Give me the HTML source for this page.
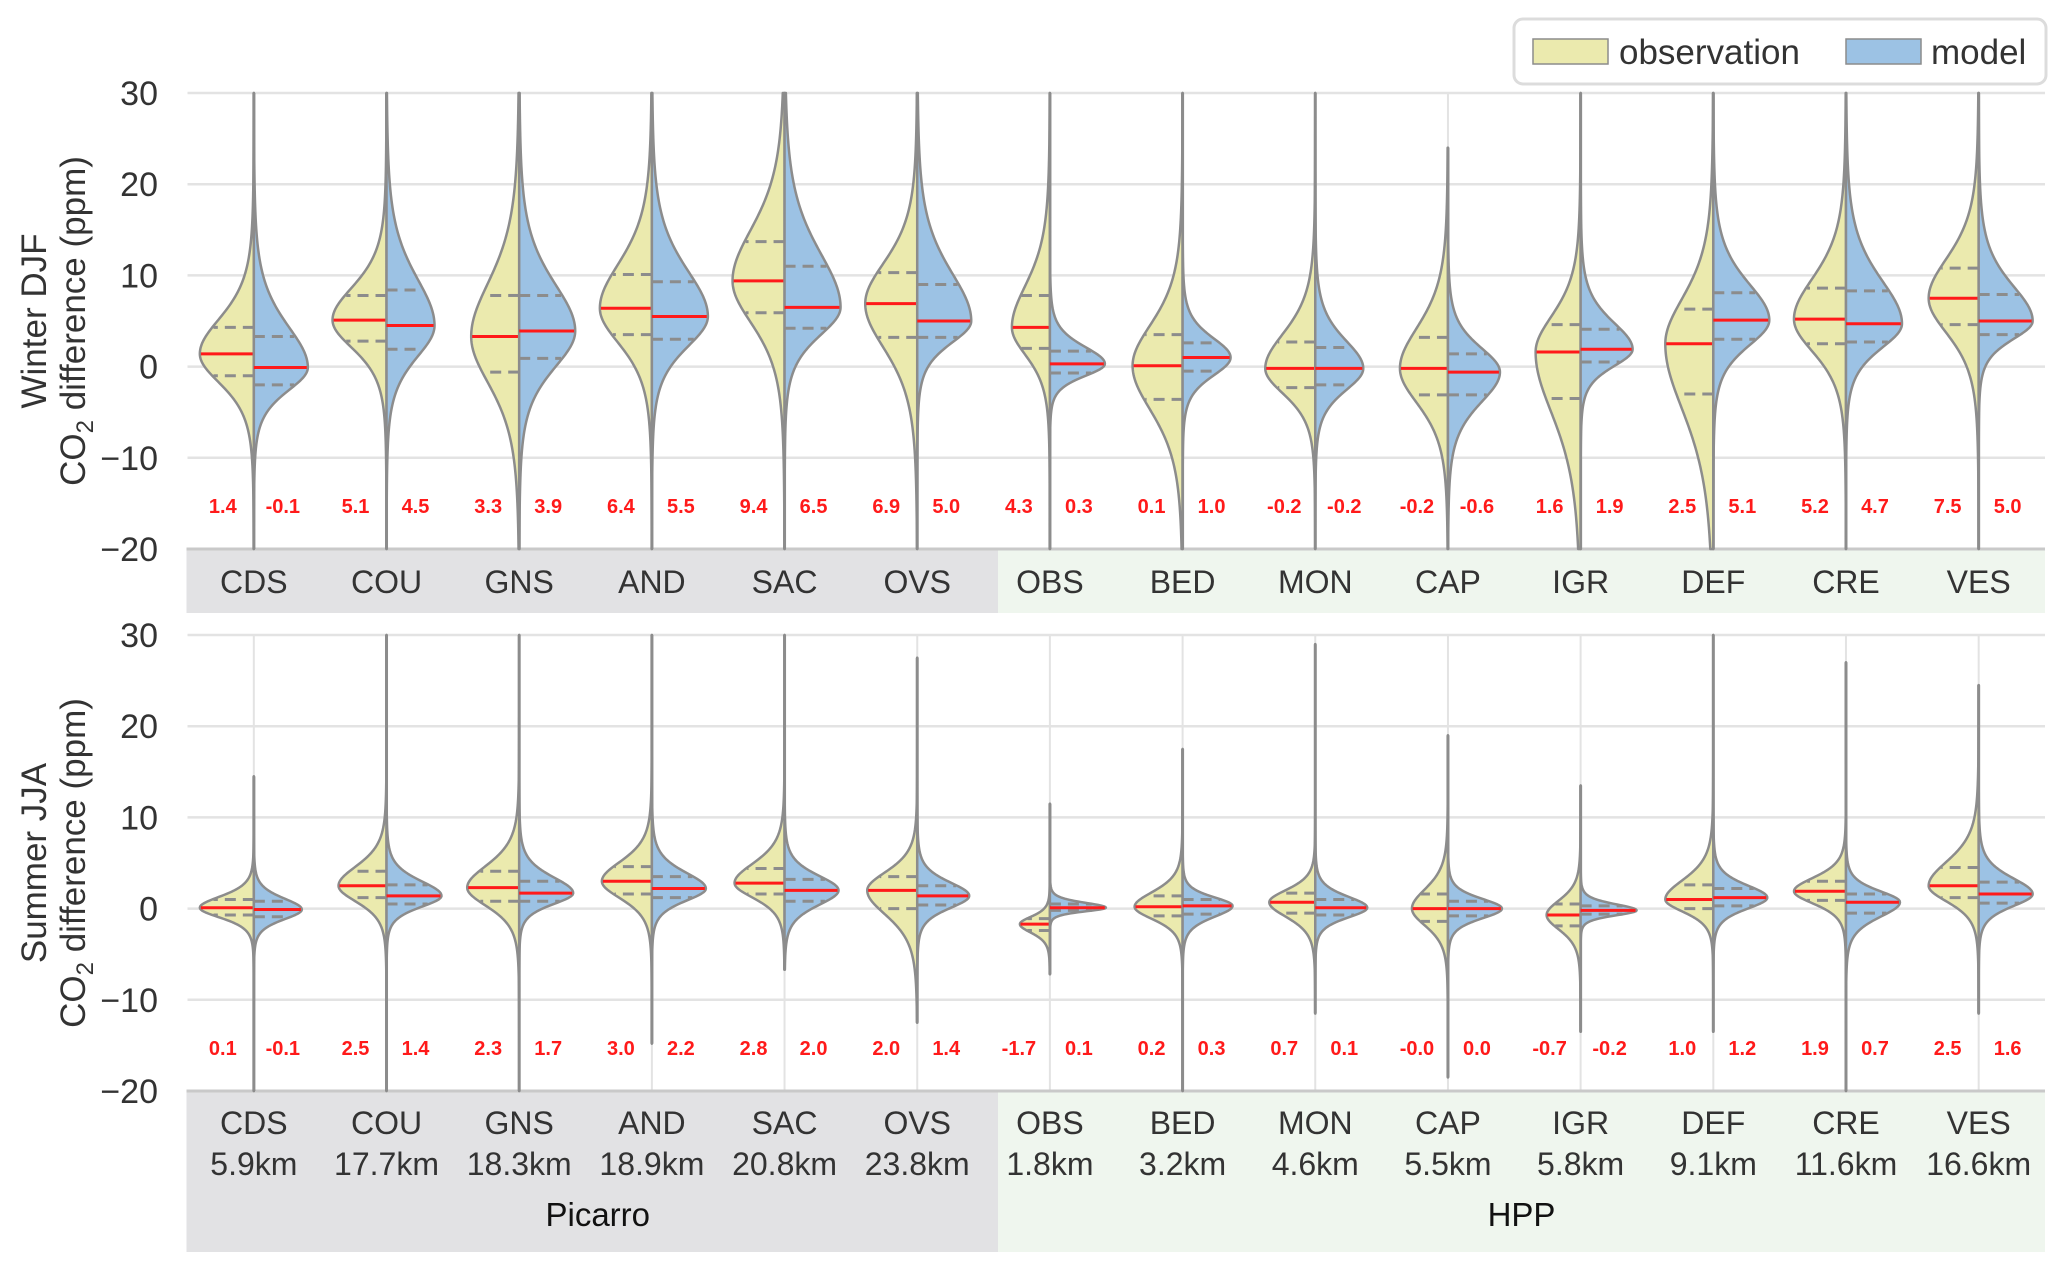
<!DOCTYPE html>
<html><head><meta charset="utf-8"><style>
html,body{margin:0;padding:0;background:#fff}
svg{display:block}
text{font-family:"Liberation Sans",Arial,sans-serif}
</style></head><body>
<svg id="chart" width="2067" height="1270" viewBox="0 0 2067 1270" xmlns="http://www.w3.org/2000/svg">
<g id="bg"></g>
<g id="grid"></g>
<g id="violins"></g>
<g id="labels"></g>
<g>
<rect x="1514" y="19" width="532" height="65" rx="9" fill="#fff" stroke="#dcdcdc" stroke-width="3"/>
<rect x="1533" y="39" width="75" height="25" fill="#ebeaae" stroke="#8c8c8c" stroke-width="1.5"/>
<text x="1619" y="64" font-size="35" fill="#333">observation</text>
<rect x="1846" y="39" width="75" height="25" fill="#9cc2e4" stroke="#8c8c8c" stroke-width="1.5"/>
<text x="1931" y="64" font-size="35" fill="#333">model</text>
</g>
</svg>
<script>
const stations = ["CDS","COU","GNS","AND","SAC","OVS","OBS","BED","MON","CAP","IGR","DEF","CRE","VES"];
const distances = ["5.9km","17.7km","18.3km","18.9km","20.8km","23.8km","1.8km","3.2km","4.6km","5.5km","5.8km","9.1km","11.6km","16.6km"];
const groups = ["Picarro","HPP"];
const yTicks = [30,20,10,0,-10,-20];
const yTickLabels = ["30","20","10","0","\u221210","\u221220"];
// Winter
const wObsMed = [1.4,5.1,3.3,6.4,9.4,6.9,4.3,0.1,-0.2,-0.2,1.6,2.5,5.2,7.5];
const wObsQ1  = [-1.0,2.8,-0.6,3.5,5.9,3.2,2.0,-3.6,-2.3,-3.1,-3.5,-3.0,2.5,4.6];
const wObsQ3  = [4.3,7.8,7.8,10.1,13.7,10.3,7.8,3.5,2.7,3.2,4.6,6.3,8.6,10.8];
const wModMed = [-0.1,4.5,3.9,5.5,6.5,5.0,0.3,1.0,-0.2,-0.6,1.9,5.1,4.7,5.0];
const wModQ1  = [-2.0,1.9,0.9,3.0,4.2,3.2,-0.7,-0.5,-2.0,-3.1,0.5,3.0,2.7,3.5];
const wModQ3  = [3.3,8.4,7.8,9.3,11.0,9.0,1.7,2.6,2.1,1.4,4.1,8.1,8.3,7.9];
const wLo = [-20,-20,-20,-20,-20,-20,-20,-20,-20,-20,-20,-20,-20,-20];
const wHi = [30,30,30,30,30,30,30,30,30,24,30,30,30,30];
const wObsPeak = [54,54,48,52,52,52,38,50,50,48,45,48,52,50];
const wModPeak = [54,48,56,56,56,54,55,48,48,52,52,56,56,54];
// Summer
const sObsMed = [0.1,2.5,2.3,3.0,2.8,2.0,-1.7,0.2,0.7,-0.0,-0.7,1.0,1.9,2.5];
const sObsQ1  = [-0.7,1.2,0.8,1.6,1.6,0.0,-2.4,-0.8,-0.5,-1.4,-1.9,0.0,0.9,1.2];
const sObsQ3  = [1.0,4.1,4.1,4.6,4.4,3.5,-1.1,1.4,1.7,1.6,0.5,2.6,3.0,4.5];
const sModMed = [-0.1,1.4,1.7,2.2,2.0,1.4,0.1,0.3,0.1,0.0,-0.2,1.2,0.7,1.6];
const sModQ1  = [-0.9,0.5,0.8,1.2,0.8,0.4,-0.2,-0.6,-0.7,-0.8,-0.6,0.3,-0.5,0.6];
const sModQ3  = [0.8,2.6,3.0,3.5,3.2,2.5,0.5,1.0,1.0,0.8,0.3,2.2,1.6,2.9];
const sLo = [-20,-20,-20,-14.8,-6.7,-12.5,-7.2,-20,-11.5,-18.5,-13.5,-13.5,-20,-11.5];
const sHi = [14.5,30,30,30,30,27.5,11.5,17.5,29,19,13.5,30,27,24.5];
const sObsPeak = [54,48,52,50,50,50,30,48,46,36,34,48,52,50];
const sModPeak = [48,55,54,54,54,52,56,50,52,54,56,54,54,54];

const NS='http://www.w3.org/2000/svg';
function mk(tag,attrs,parent){const e=document.createElementNS(NS,tag);for(const k in attrs)e.setAttribute(k,attrs[k]);parent.appendChild(e);return e;}
function fmt(v){const s=Math.abs(v).toFixed(1);return (v<0||Object.is(v,-0))?'-'+s:s;}
const xLeft=187.5, xRight=2045, step=(xRight-xLeft)/stations.length;
const xC=i=>xLeft+step*(i+0.5);
const panels=[
 {name:'winter',top:93,bot:549,bandBot:613,title1:'Winter DJF',med:[wObsMed,wModMed],q1:[wObsQ1,wModQ1],q3:[wObsQ3,wModQ3],lo:wLo,hi:wHi,peak:[wObsPeak,wModPeak],numY:513,dist:false},
 {name:'summer',top:635,bot:1091,bandBot:1252,title1:'Summer JJA',med:[sObsMed,sModMed],q1:[sObsQ1,sModQ1],q3:[sObsQ3,sModQ3],lo:sLo,hi:sHi,peak:[sObsPeak,sModPeak],numY:1055,dist:true}
];
const bg=document.getElementById('bg'),grid=document.getElementById('grid'),vg=document.getElementById('violins'),lg=document.getElementById('labels');
const split=998;
panels.forEach(p=>{
 const yS=v=>p.bot-(v+20)/50*(p.bot-p.top);
 let r=mk('rect',{x:xLeft-1,y:p.bot,width:split-xLeft+1,height:p.bandBot-p.bot,fill:'#e2e2e4'},bg);
 
 r=mk('rect',{x:split,y:p.bot,width:xRight-split,height:p.bandBot-p.bot,fill:'#eff6ee'},bg);
 
 yTicks.forEach((t,k)=>{
  if(t>-20){const l=mk('line',{x1:xLeft,x2:xRight,y1:yS(t),y2:yS(t),stroke:'#e3e3e3','stroke-width':2.5},grid);
   }
  const tx=mk('text',{x:158,y:yS(t)+12,'text-anchor':'end','font-size':34,fill:'#333'},lg);
  
  tx.textContent=yTickLabels[k];
 });
 stations.forEach((s,i)=>{
  const l=mk('line',{x1:xC(i),x2:xC(i),y1:p.top,y2:p.bot,stroke:'#e3e3e3','stroke-width':2},grid);
  
 });
 const ax=mk('line',{x1:xLeft-1,x2:xRight,y1:p.bot,y2:p.bot,stroke:'#c9c9c9','stroke-width':3},grid);
 
 const cy=(p.top+p.bot)/2;
 let t1=mk('text',{x:0,y:0,transform:`translate(46,${cy}) rotate(-90)`,'text-anchor':'middle','font-size':35,fill:'#333'},lg);
 
 t1.textContent=p.title1;
 let t2=mk('text',{x:0,y:0,transform:`translate(85,${cy}) rotate(-90)`,'text-anchor':'middle','font-size':35,fill:'#333'},lg);
 
 t2.innerHTML='CO<tspan font-size="24" dy="8">2</tspan><tspan dy="-8"> difference (ppm)</tspan>';
 stations.forEach((s,i)=>{
  const cx=xC(i), lo=p.lo[i], hi=p.hi[i];
  const cl=mk('line',{x1:cx,x2:cx,y1:yS(lo),y2:yS(hi),stroke:'#8c8c8c','stroke-width':3},vg);
  
  [0,1].forEach(h=>{
   const m=p.med[h][i],a=p.q1[h][i],b=p.q3[h][i],w=p.peak[h][i],dir=h===0?-1:1;
   const sl=Math.max(m-a,0.1)/0.674, sh=Math.max(b-m,0.1)/0.674;
   const nu=5;
   const wf=y=>{const z=y<m?(y-m)/sl:(y-m)/sh;return w*Math.pow(1+z*z/nu,-(nu+1)/2);};
   let d=`M${cx},${yS(lo)}`;const N=300;
   for(let k=0;k<=N;k++){const y=lo+(hi-lo)*k/N;d+=`L${(cx+dir*wf(y)).toFixed(2)},${yS(y).toFixed(2)}`;}
   d+=`L${cx},${yS(hi)}Z`;
   const pa=mk('path',{d:d,fill:h===0?'#ebeaae':'#9cc2e4',stroke:'#8c8c8c','stroke-width':2.5,'stroke-linejoin':'round'},vg);
   
   
   [a,b].forEach(q=>{
    const ql=mk('line',{x1:cx,x2:cx+dir*wf(q)*0.97,y1:yS(q),y2:yS(q),stroke:'#8c8c8c','stroke-width':3,'stroke-dasharray':'11,7'},vg);
    
   });
   const ml=mk('line',{x1:cx,x2:cx+dir*wf(m)*0.98,y1:yS(m),y2:yS(m),stroke:'#ff1a1a','stroke-width':3},vg);
   
   const nt=mk('text',{x:cx+(h===0?-31:29),y:p.numY,'text-anchor':'middle','font-size':20,'font-weight':'bold',fill:'#ff1a1a'},lg);
   
   nt.textContent=fmt(m);
  });
  const st=mk('text',{x:cx,y:p.dist?1134:593,'text-anchor':'middle','font-size':32,fill:'#333'},lg);
  
  st.textContent=s;
  if(p.dist){const dt=mk('text',{x:cx,y:1175,'text-anchor':'middle','font-size':32,fill:'#333'},lg);
   
   dt.textContent=distances[i];}
 });
 if(p.dist){
  [[groups[0],(xLeft+split)/2+5],[groups[1],(split+xRight)/2]].forEach(g=>{
   const gt=mk('text',{x:g[1],y:1226,'text-anchor':'middle','font-size':33,fill:'#111'},lg);
   
   gt.textContent=g[0];
  });
 }
});
</script>
</body></html>
